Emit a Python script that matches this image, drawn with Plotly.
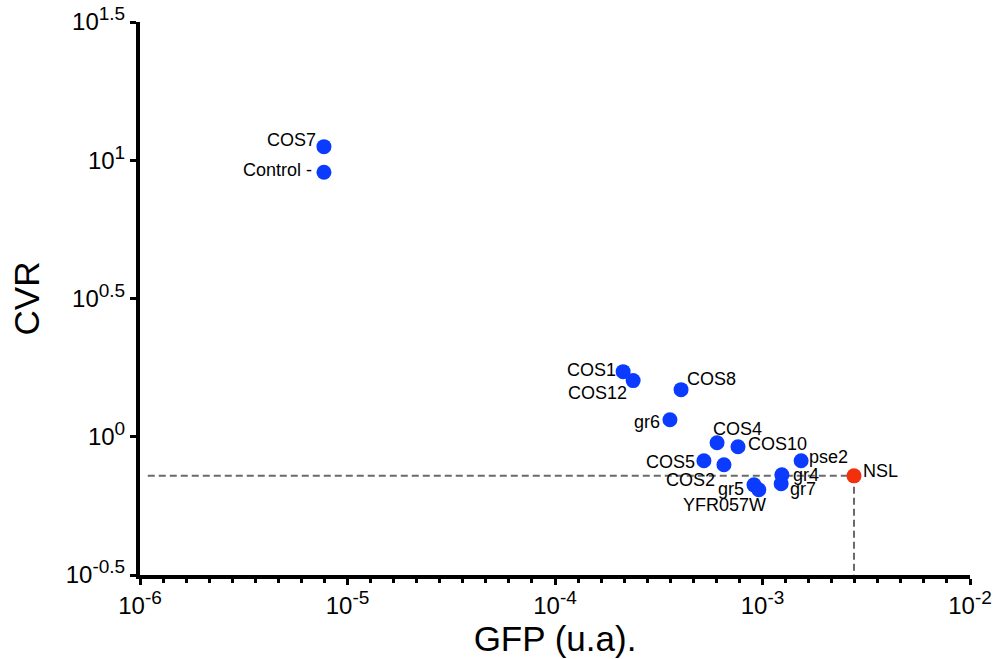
import numpy as np
import plotly.graph_objects as go

# ---- data ----
labels = ["COS7", "Control -", "COS1", "COS12", "COS8", "gr6", "COS4", "COS10",
          "COS5", "COS2", "pse2", "gr4", "gr7", "gr5", "YFR057W", "NSL"]
gfp = [7.7e-6, 7.7e-6, 2.13e-4, 2.38e-4, 4.05e-4, 3.58e-4, 6.04e-4, 7.62e-4,
       5.22e-4, 6.52e-4, 1.535e-3, 1.24e-3, 1.23e-3, 9.1e-4, 9.6e-4, 2.76e-3]
cvr = [11.2, 9.05, 1.72, 1.596, 1.48, 1.152, 0.951, 0.920,
       0.819, 0.792, 0.819, 0.728, 0.676, 0.670, 0.643, 0.722]
reference_label = "NSL"

x_tick_vals = [1e-6, 1e-5, 1e-4, 1e-3, 1e-2]
x_exponents = ["-6", "-5", "-4", "-3", "-2"]
y_tick_vals = [10 ** -0.5, 1, 10 ** 0.5, 10, 10 ** 1.5]
y_exponents = ["-0.5", "0", "0.5", "1", "1.5"]


def power_label(exp):
    return '10<sup><span style="font-size:19px">' + exp + '</span></sup>'


x_tick_text = [power_label(e) for e in x_exponents]
y_tick_text = [power_label(e) for e in y_exponents]

# ---- label placement (anchor, xshift, yshift) ----
label_pos = {
    "COS7": ("right", -6, 7),
    "Control -": ("right", -10, 2),
    "COS1": ("right", -5, 2),
    "COS12": ("right", -4, -12),
    "COS8": ("left", 4, 11),
    "gr6": ("right", -8, -2),
    "COS4": ("left", -6, 14),
    "COS10": ("left", 8, 3),
    "COS5": ("right", -7, -1),
    "COS2": ("right", -7, -15),
    "pse2": ("left", 6, 4),
    "gr4": ("left", 9, 0),
    "gr7": ("left", 7, -5),
    "gr5": ("right", -8, -4),
    "YFR057W": ("right", 9, -15),
    "NSL": ("left", 7, 5),
}

FONT = "Arial, Liberation Sans, sans-serif"
BLUE = "#0b3bff"
RED = "#f2300c"

ref_i = labels.index(reference_label)
ref_x, ref_y = gfp[ref_i], cvr[ref_i]

fig = go.Figure()

# dashed reference lines through NSL
fig.add_trace(go.Scatter(
    x=[x_tick_vals[0] * 1.09, ref_x], y=[ref_y, ref_y], mode="lines",
    line=dict(color="#6a6a6a", width=2, dash="7px,4px"),
    hoverinfo="skip", showlegend=False))
fig.add_trace(go.Scatter(
    x=[ref_x, ref_x], y=[ref_y, y_tick_vals[0]], mode="lines",
    line=dict(color="#6a6a6a", width=2, dash="7px,4px"),
    hoverinfo="skip", showlegend=False))

colors = [RED if l == reference_label else BLUE for l in labels]
fig.add_trace(go.Scatter(
    x=gfp, y=cvr, mode="markers",
    marker=dict(size=15, color=colors, line=dict(width=0)),
    showlegend=False, cliponaxis=False))

for l, xv, yv in zip(labels, gfp, cvr):
    anchor, xs, ys = label_pos[l]
    fig.add_annotation(
        x=np.log10(xv), y=np.log10(yv), text=l, showarrow=False,
        xanchor=anchor, yanchor="middle", xshift=xs, yshift=ys,
        font=dict(family=FONT, size=18, color="black"))

minor_x = [10 ** (e + k / 9) for e in range(-6, -2) for k in range(1, 9)]

fig.update_xaxes(
    type="log", range=[-6, -2], automargin=False,
    tickmode="array", tickvals=x_tick_vals, ticktext=x_tick_text,
    showline=True, linewidth=4, linecolor="black",
    ticks="outside", ticklen=6, tickwidth=3, tickcolor="black",
    tickfont=dict(family=FONT, size=24, color="black"),
    showgrid=False, zeroline=False,
    minor=dict(tickmode="array", tickvals=minor_x, ticks="outside",
               ticklen=4, tickwidth=3, tickcolor="black", showgrid=False),
    title=dict(text="GFP (u.a).", font=dict(family=FONT, size=35, color="black"),
               standoff=4),
)
fig.update_yaxes(
    type="log", range=[-0.5, 1.5], automargin=False,
    tickmode="array", tickvals=y_tick_vals, ticktext=y_tick_text,
    showline=True, linewidth=4, linecolor="black",
    ticks="outside", ticklen=6, tickwidth=3, tickcolor="black",
    tickfont=dict(family=FONT, size=24, color="black"),
    showgrid=False, zeroline=False,
    title=dict(text="CVR", font=dict(family=FONT, size=35, color="black"),
               standoff=16),
)

fig.update_layout(
    width=994, height=659,
    margin=dict(l=140, r=24, t=22, b=84),
    plot_bgcolor="white", paper_bgcolor="white",
    font=dict(family=FONT),
    showlegend=False,
)

fig.write_html("out.html", config={"displayModeBar": False},
               post_script="document.body.style.margin='0';document.body.style.overflow='hidden';")
